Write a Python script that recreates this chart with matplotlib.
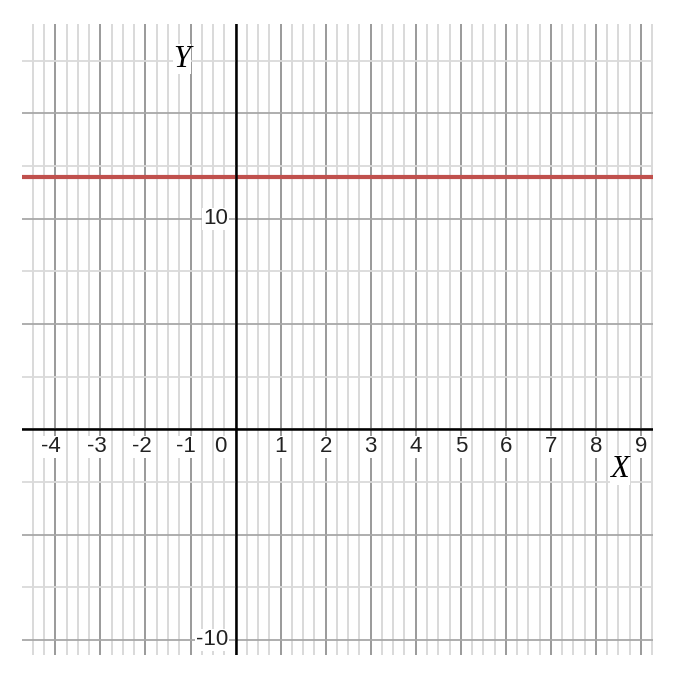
import matplotlib.pyplot as plt
from matplotlib.ticker import MultipleLocator

# data
line_value = 12
x_limits = [-4.74, 9.26]
y_limits = [-10.72, 19.25]
x_tick_values = [-4, -3, -2, -1, 1, 2, 3, 4, 5, 6, 7, 8, 9]
x_tick_labels = ['-4', '-3', '-2', '-1', '1', '2', '3', '4', '5', '6', '7', '8', '9']
y_tick_values = [10, -10]
y_tick_labels = ['10', '-10']

fig = plt.figure(figsize=(6.82, 6.86), dpi=100)
ax = fig.add_axes([0.0323, 0.0452, 0.9247, 0.9198])
ax.set_xlim(x_limits)
ax.set_ylim(y_limits)

# grid: major every 1 / 5, minor every 0.25 / 2.5
ax.xaxis.set_major_locator(MultipleLocator(1))
ax.xaxis.set_minor_locator(MultipleLocator(0.25))
ax.yaxis.set_major_locator(MultipleLocator(5))
ax.yaxis.set_minor_locator(MultipleLocator(2.5))
ax.grid(which='major', axis='x', color='#9a9a9a', lw=1.4)
ax.grid(which='minor', axis='x', color='#d9d9d9', lw=1.4)
ax.grid(which='major', axis='y', color='#a8a8a8', lw=1.3)
ax.grid(which='minor', axis='y', color='#dadada', lw=1.3)
ax.set_axisbelow(True)
ax.tick_params(which='both', length=0, labelbottom=False, labelleft=False)
for s in ax.spines.values():
    s.set_visible(False)

# the line
ax.axhline(line_value, color='#c0504d', lw=3, zorder=3)

# axes through the origin
ax.axhline(0, color='black', lw=1.8, zorder=4)
ax.axvline(0, color='black', lw=1.8, zorder=4)

box = dict(facecolor='white', edgecolor='none', pad=0.5)
fs = 16
for xv, lab in zip(x_tick_values, x_tick_labels):
    if xv < 0:
        ax.text(xv + 0.13, -0.83, lab, ha='right', va='center', fontsize=fs,
                family='Liberation Sans', color='#222222', bbox=box, zorder=5)
    else:
        ax.text(xv, -0.83, lab, ha='center', va='center', fontsize=fs,
                family='Liberation Sans', color='#222222', bbox=box, zorder=5)
ax.text(-0.33, -0.83, '0', ha='center', va='center', fontsize=fs,
        family='Liberation Sans', color='#222222', bbox=box, zorder=5)
for yv, lab in zip(y_tick_values, y_tick_labels):
    ax.text(-0.17, yv, lab, ha='right', va='center', fontsize=fs,
            family='Liberation Sans', color='#222222', bbox=box, zorder=5)

# axis names
ax.text(8.53, -1.93, 'X', ha='center', va='center', fontsize=22,
        family='Liberation Serif', style='italic', bbox=box, zorder=5)
ax.text(-1.19, 17.58, 'Y', ha='center', va='center', fontsize=22,
        family='Liberation Serif', style='italic', bbox=box, zorder=5)

fig.savefig('out.png', dpi=100, facecolor='white')
